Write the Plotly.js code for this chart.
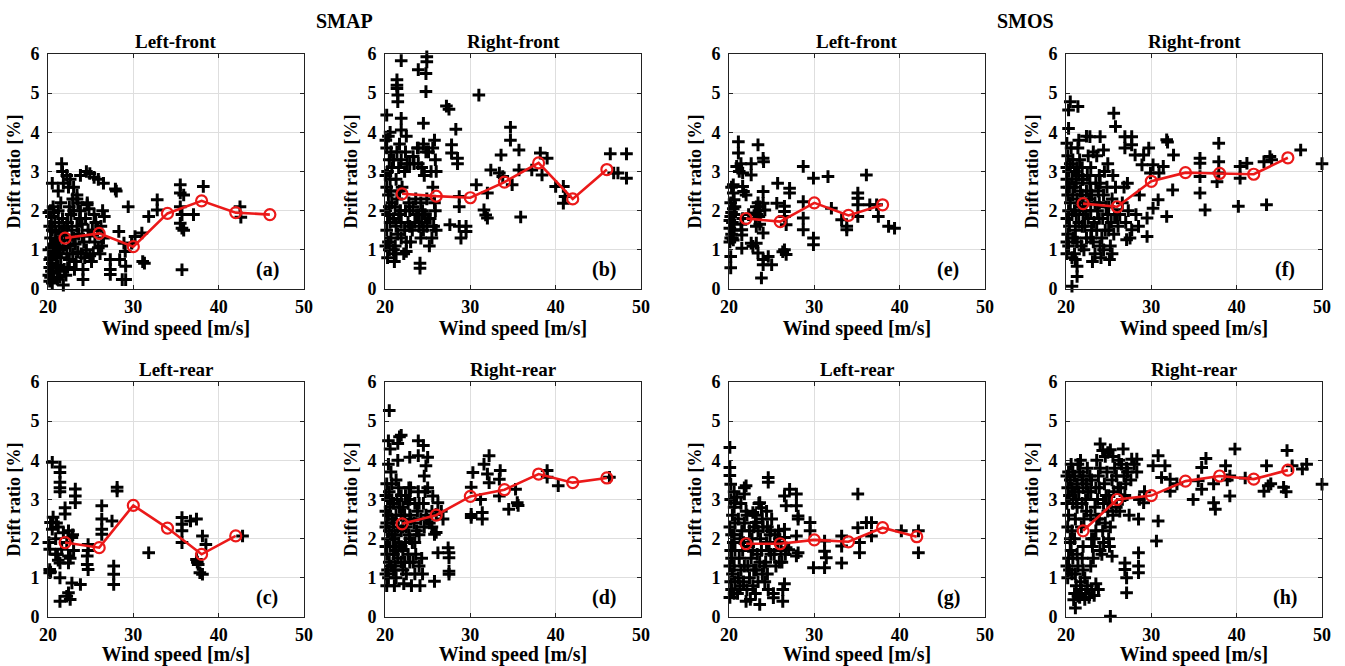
<!DOCTYPE html>
<html><head><meta charset="utf-8">
<script src="https://cdn.plot.ly/plotly-3.0.1.min.js"></script>
<style>html,body{margin:0;padding:0;background:#fff}#chart{width:1345px;height:666px}</style>
</head><body><div id="chart"></div><script>
// Bin centres of the red mean lines (wind speed, m/s)
const binWind = [22, 26, 30, 34, 38, 42, 46];

// Red mean-line values (drift ratio, %)
const meanSmapLF = [1.30, 1.42, 1.08, 1.93, 2.25, 1.95, 1.90];
const meanSmapRF = [2.43, 2.37, 2.33, 2.73, 3.22, 2.30, 3.05];
const meanSmapLR = [1.90, 1.77, 2.85, 2.27, 1.60, 2.07];
const meanSmapRR = [2.38, 2.60, 3.08, 3.25, 3.65, 3.43, 3.55];
const meanSmosLF = [1.80, 1.72, 2.20, 1.88, 2.15];
const meanSmosRF = [2.18, 2.10, 2.75, 2.97, 2.95, 2.93, 3.35];
const meanSmosLR = [1.87, 1.87, 1.97, 1.92, 2.28, 2.05];
const meanSmosRR = [2.20, 3.00, 3.10, 3.47, 3.60, 3.52, 3.75];

// Scatter samples [wind speed, drift ratio]
const ptsSmapLF = [[20.5,2.7],[21.6,3.2],[21.7,3.0],[22.2,2.9],[22.4,2.6],[23.0,2.6],[23.8,2.9],[24.5,3.0],[24.9,2.95],[25.4,2.85],[25.9,2.8],[26.5,2.7],[27.9,2.55],[28.0,2.5],[23.4,2.4],[23.4,2.3],[24.6,2.2],[24.6,2.15],[21.2,2.0],[20.3,2.0],[20.7,1.95],[29.4,2.1],[28.3,1.47],[27.3,0.75],[27.3,0.5],[27.3,0.37],[28.4,0.75],[28.7,0.24],[29.1,0.24],[29.1,0.58],[28.9,1.17],[29.05,0.96],[29.8,1.17],[30.2,1.34],[31.0,1.43],[31.1,0.7],[31.3,0.66],[31.8,1.85],[32.8,2.28],[32.8,2.02],[35.5,2.66],[35.5,2.45],[35.9,2.4],[35.5,2.1],[35.7,1.9],[35.5,1.68],[35.7,1.55],[35.9,1.5],[35.7,0.49],[37.05,1.9],[38.2,2.62],[42.5,2.1],[42.6,1.83],[24.1,0.24],[21.8,0.1],
[20.2,0.2],[20.3,0.3],[20.4,0.45],[20.2,0.55],[20.5,0.65],[20.3,0.8],[20.6,0.9],[20.4,1.05],[20.7,1.15],[20.3,1.3],[20.5,1.5],[20.8,1.7],[20.4,1.85],[20.6,2.1],
[21.1,0.25],[21.3,0.45],[21.2,0.6],[21.5,0.8],[21.4,1.0],[21.2,1.2],[21.6,1.4],[21.3,1.6],[21.7,1.8],[21.5,2.2],[21.2,2.5],[21.8,2.7],
[22.1,0.35],[22.3,0.55],[22.5,0.75],[22.2,0.9],[22.6,1.1],[22.4,1.25],[22.8,1.5],[22.3,1.7],[22.7,1.9],[22.5,2.1],[22.9,2.3],[22.6,2.8],
[23.1,0.5],[23.3,0.7],[23.5,0.95],[23.2,1.15],[23.6,1.4],[23.4,1.6],[23.8,2.0],[23.7,1.8],
[24.1,0.5],[24.3,0.8],[24.5,1.0],[24.2,1.2],[24.7,1.5],[24.4,1.8],[24.8,2.05],
[25.1,0.7],[25.3,0.9],[25.5,1.2],[25.2,1.5],[25.6,1.7],[25.4,1.9],
[26.1,0.9],[26.3,1.1],[26.5,1.3],[26.2,1.6],[26.6,1.85],[26.4,2.0],
[20.1,0.35],[20.6,0.4],[20.9,0.55],[20.2,0.75],[20.8,0.95],[20.1,1.0],[20.9,1.25],[20.2,1.6],[20.9,1.45],[20.1,1.95],[21.0,1.1],[21.9,0.5],[21.8,1.05],[21.9,1.55],[21.0,0.85],[22.0,1.35],[22.9,0.9],[23.0,1.3],[23.9,0.9],[23.0,2.0],[24.0,1.35],[24.9,0.85],[24.9,1.35],[25.9,1.05],[25.8,1.5],[24.0,1.65],[23.5,2.2],[22.2,1.6],[21.4,0.3],[20.5,0.15]];

const ptsSmapRF = [[21.9,5.83],[21.4,5.34],[21.4,5.2],[21.4,5.12],[21.5,4.95],[21.5,4.78],[20.2,4.44],[21.9,4.36],[21.9,4.06],[22.5,3.9],[23.9,5.6],[24.9,5.93],[24.9,5.8],[24.8,5.5],[24.8,5.04],[24.5,4.23],[27.2,4.67],[27.5,4.59],[28.3,4.08],[31.0,4.95],[34.7,4.13],[34.7,3.8],[27.8,3.68],[27.8,3.47],[28.5,3.34],[28.5,3.2],[23.9,3.6],[23.9,3.2],[22.9,3.2],[23.3,3.38],[24.1,0.66],[24.1,0.53],[22.5,0.96],[28.7,2.36],[28.7,2.1],[28.7,1.6],[28.9,1.3],[29.5,1.6],[29.5,1.47],[27.6,1.64],[30.7,2.66],[32.0,2.45],[31.6,2.02],[31.8,1.89],[32.0,1.81],[32.4,3.04],[33.6,3.42],[33.4,2.96],[33.8,2.87],[34.9,2.66],[35.7,3.55],[35.7,3.04],[35.9,1.84],[37.2,3.04],[38.2,3.47],[38.4,2.91],[39.0,3.34],[40.0,2.62],[40.9,2.62],[40.9,2.19],[41.1,2.36],[46.4,3.45],[46.8,2.96],[47.3,2.96],[48.3,3.45],[48.3,2.83],
[20.3,0.8],[20.5,1.0],[20.4,1.2],[20.2,1.5],[20.6,1.7],[20.3,1.9],[20.5,2.1],[20.4,2.4],[20.2,2.6],[20.6,2.8],[20.3,3.0],[20.5,3.3],[20.2,3.6],[20.4,3.9],[20.6,4.0],
[21.1,0.7],[21.3,0.9],[21.2,1.1],[21.5,1.4],[21.3,1.6],[21.6,1.9],[21.2,2.1],[21.4,2.3],[21.7,2.5],[21.3,2.8],[21.6,3.1],[21.4,3.5],[21.7,3.7],
[22.2,0.9],[22.5,1.2],[22.3,1.5],[22.7,1.7],[22.4,2.0],[22.8,2.2],[22.3,3.0],[22.6,3.2],[22.4,3.5],
[23.2,1.5],[23.5,1.7],[23.7,1.9],[23.3,2.1],[23.6,2.3],[23.4,3.2],[23.8,3.6],
[24.2,1.3],[24.5,1.5],[24.3,1.7],[24.7,1.9],[24.4,2.0],[24.6,2.9],[24.3,3.1],[24.8,3.5],[24.5,3.7],
[25.2,1.1],[25.5,1.3],[25.7,1.6],[25.3,1.8],[25.8,2.2],[25.6,2.6],[25.4,3.0],[25.9,3.3],[25.6,3.6],[25.8,3.8],
[20.1,1.1],[20.7,1.3],[20.1,2.0],[20.8,2.2],[20.7,2.5],[20.1,2.9],[20.8,3.1],[20.7,3.5],[20.1,3.8],[21.0,1.0],[21.9,1.3],[21.0,1.8],[21.9,1.7],[21.8,2.0],[21.0,3.3],[21.9,3.3],[22.0,2.6],[22.9,1.6],[22.9,2.0],[23.0,1.2],[24.0,1.6],[24.0,1.9],[24.9,1.6],[25.0,1.8],[24.9,2.3],[24.2,2.2],[25.1,3.5],[26.0,1.5],[26.0,3.0],[25.9,2.0]];

const ptsSmapLR = [[20.5,3.95],[21.4,3.83],[21.4,3.69],[21.4,3.44],[21.4,3.3],[21.4,3.2],[23.2,3.27],[23.2,3.09],[23.2,2.92],[22.0,2.79],[22.0,2.63],[20.3,2.41],[20.5,2.24],[20.1,1.9],[20.2,1.73],[20.2,1.21],[20.2,1.13],[20.9,1.6],[21.4,1.38],[21.6,1.73],[21.4,1.0],[21.4,0.4],[22.2,0.53],[22.4,0.62],[22.6,0.45],[22.8,0.87],[23.8,0.83],[22.4,2.2],[22.8,2.03],[22.2,1.9],[22.4,1.56],[22.4,1.38],[24.6,1.56],[24.6,1.34],[24.7,1.21],[24.7,1.85],[24.7,1.7],[26.3,2.84],[26.3,2.5],[26.3,2.24],[26.3,2.11],[27.5,2.45],[27.7,1.3],[27.7,1.09],[27.7,0.83],[28.1,3.31],[28.1,3.22],[31.8,1.64],[35.7,1.9],[35.7,2.2],[35.7,2.37],[35.7,2.54],[36.7,2.45],[37.4,2.5],[37.4,1.47],[37.6,1.34],[37.8,1.13],[38.1,1.09],[38.1,2.07],[38.5,1.85],[42.8,2.07],
[20.6,2.55],[21.0,2.4],[21.2,2.3],[20.9,2.0],[21.8,2.15],[22.9,2.1],[23.0,1.7],[21.1,1.6],[20.3,1.15],[21.2,1.45],[22.6,1.5],[37.5,1.4]];

const ptsSmapRR = [[20.5,5.27],[20.4,4.5],[20.6,4.29],[21.5,4.43],[21.7,4.6],[21.9,4.64],[23.9,4.5],[24.5,4.38],[23.9,4.12],[25.0,4.08],[22.9,4.08],[24.8,3.86],[24.6,3.6],[25.6,3.09],[26.2,2.92],[26.0,2.62],[26.8,2.5],[25.8,2.11],[26.0,2.16],[26.2,1.64],[27.4,1.77],[27.5,1.64],[27.5,1.51],[27.5,1.17],[27.5,1.09],[25.8,0.91],[30.3,3.69],[30.1,3.31],[30.1,2.62],[30.1,2.54],[31.4,2.5],[31.4,2.67],[31.2,3.0],[31.6,3.9],[32.2,4.12],[32.0,3.65],[32.2,3.43],[33.5,3.74],[33.4,3.52],[33.4,3.09],[34.5,2.75],[35.3,3.26],[35.5,2.92],[35.6,2.85],[39.0,3.74],[39.0,3.57],[40.3,3.35],[46.3,3.57],
[20.2,0.8],[20.4,1.0],[20.3,1.2],[20.5,1.4],[20.2,1.6],[20.6,1.8],[20.3,2.0],[20.5,2.2],[20.2,2.4],[20.4,2.6],[20.6,2.8],[20.3,3.0],[20.5,3.2],[20.2,3.4],[20.7,3.7],[20.4,3.9],
[21.1,0.8],[21.3,1.0],[21.2,1.3],[21.5,1.5],[21.3,1.7],[21.6,1.9],[21.2,2.1],[21.5,2.3],[21.3,2.6],[21.7,2.8],[21.4,3.0],[21.6,3.3],[21.3,3.5],[21.5,4.0],
[22.2,0.85],[22.5,1.1],[22.3,1.4],[22.7,1.6],[22.4,1.9],[22.8,2.1],[22.5,2.3],[22.3,2.6],[22.7,2.9],[22.4,3.1],[22.8,3.3],
[23.1,0.8],[23.5,1.1],[23.3,1.4],[23.6,1.6],[23.2,1.9],[23.7,2.2],[23.4,2.4],[23.8,2.7],[23.5,2.9],[23.9,3.2],
[24.1,0.8],[24.4,1.1],[24.3,1.5],[24.6,2.3],[24.2,2.5],[24.8,2.6],[24.5,2.9],[24.7,3.2],[25.0,3.3],[25.2,2.4],[25.5,2.3],
[20.1,1.1],[20.7,1.3],[20.1,1.8],[20.8,2.1],[20.1,2.3],[20.8,2.5],[20.1,2.7],[20.8,3.0],[20.1,3.1],[20.8,3.4],[21.0,1.2],[21.9,1.4],[21.0,1.6],[21.9,1.8],[21.0,2.0],[21.9,2.2],[21.0,2.4],[21.9,2.6],[21.0,2.9],[21.9,3.1],[22.1,1.2],[22.9,1.4],[22.1,1.7],[22.9,2.0],[22.1,2.3],[22.9,2.6],[22.1,2.8],[22.9,3.0],[23.0,2.5],[24.0,2.1],[23.0,3.3],[24.0,2.9],[24.9,2.5],[24.0,1.3],[25.5,2.7],[26.6,2.7],[23.5,1.9]];

const ptsSmosLF = [[21.1,3.76],[21.1,3.47],[20.9,3.13],[21.4,3.2],[21.2,3.0],[21.6,2.96],[23.4,3.68],[22.6,3.2],[22.6,2.91],[24.0,3.34],[24.05,3.25],[20.5,2.66],[20.5,2.45],[20.6,2.28],[21.6,2.62],[21.7,2.49],[20.2,0.83],[20.2,0.54],[21.5,1.51],[21.5,1.38],[21.5,1.04],[22.6,1.17],[22.8,1.09],[23.2,1.17],[23.4,0.92],[24.0,2.49],[24.0,2.19],[24.2,2.02],[23.2,2.1],[23.1,1.94],[24.0,1.43],[24.0,0.75],[24.0,0.62],[23.8,0.28],[24.6,0.83],[25.0,0.62],[25.7,2.7],[25.6,2.19],[26.5,2.11],[26.5,1.98],[26.5,1.85],[26.7,1.64],[26.5,1.0],[26.7,0.88],[26.3,0.95],[27.1,2.57],[27.1,2.45],[28.7,3.13],[28.7,2.23],[28.7,1.81],[28.7,1.51],[29.9,2.83],[29.9,1.3],[29.9,1.13],[31.6,2.87],[32.0,2.06],[33.2,1.77],[33.8,1.6],[33.8,1.51],[35.1,2.45],[35.1,2.32],[35.1,2.15],[35.1,1.85],[36.1,2.91],[36.5,2.15],[37.3,2.15],[37.5,1.85],[38.7,1.6],[39.4,1.55],
[20.1,1.2],[20.2,1.3],[20.3,1.4],[20.1,1.55],[20.4,1.7],[20.2,1.85],[20.3,1.95],[20.5,2.05],[20.2,2.2],[20.6,1.9],[20.4,1.3],[20.7,2.1],
[23.1,1.8],[23.3,1.9],[23.5,2.0],[23.4,2.2],[23.6,1.65],[23.2,1.6],[21.6,1.8],[21.4,1.65],[22.0,2.4],[22.3,1.9],
[20.1,1.75],[20.6,1.5],[20.5,1.25],[20.3,2.6],[23.6,2.1],[23.5,1.85]];

const ptsSmosRF = [[20.5,4.78],[20.3,4.57],[21.4,4.66],[20.3,4.1],[20.1,3.72],[25.6,4.49],[25.8,4.15],[22.8,3.89],[24.0,3.89],[24.4,3.55],[26.9,3.89],[27.7,3.89],[27.7,3.68],[26.9,3.6],[28.1,3.42],[29.1,3.42],[29.7,3.6],[28.9,3.17],[29.9,2.96],[31.8,3.81],[31.9,3.75],[32.6,3.42],[31.4,3.13],[30.2,3.17],[30.9,2.96],[32.5,2.53],[31.8,1.85],[30.8,2.28],[30.2,2.06],[29.5,1.34],[29.5,1.81],[28.5,1.6],[27.7,1.51],[27.1,1.26],[35.7,3.34],[35.7,3.21],[35.7,2.45],[36.3,2.02],[35.7,2.87],[37.9,3.72],[37.9,3.25],[37.9,2.96],[37.7,2.74],[40.2,2.11],[40.4,3.13],[40.4,2.83],[41.2,3.21],[43.5,2.15],[43.2,3.25],[43.9,3.38],[44.1,3.3],[47.5,3.55],[50.0,3.2],[20.7,0.07],[21.3,0.32],[21.3,0.58],[21.1,0.75],
[20.1,0.9],[20.3,1.1],[20.2,1.4],[20.4,1.6],[20.1,1.8],[20.3,2.0],[20.5,2.2],[20.2,2.4],[20.4,2.6],[20.1,2.8],[20.3,3.0],[20.5,3.2],[20.2,3.4],[20.6,3.6],
[21.0,0.9],[21.3,1.2],[21.1,1.5],[21.5,1.7],[21.2,1.9],[21.6,2.1],[21.3,2.3],[21.7,2.5],[21.2,2.7],[21.5,2.9],[21.3,3.1],[21.6,3.3],[21.4,3.6],
[22.1,1.0],[22.4,1.3],[22.2,1.6],[22.6,1.8],[22.3,2.0],[22.7,2.3],[22.4,2.5],[22.8,2.7],[22.5,2.9],[22.9,3.1],[22.6,3.4],
[23.1,0.7],[23.4,0.9],[23.2,1.2],[23.6,1.5],[23.3,1.7],[23.7,2.0],[23.4,2.2],[23.8,2.5],[23.5,2.7],[23.9,2.9],[23.6,3.4],
[24.1,0.8],[24.4,1.0],[24.2,1.3],[24.6,1.5],[24.3,1.8],[24.7,2.1],[24.4,2.4],[24.8,2.6],[24.5,3.0],[24.9,3.2],
[25.1,0.75],[25.4,0.9],[25.2,1.1],[25.6,1.4],[25.3,1.7],[25.7,1.9],[25.4,2.3],[25.8,2.6],[25.5,2.9],
[26.3,1.9],[26.6,2.2],[27.0,1.7],[27.3,2.0],[27.5,1.3],[28.2,1.9],[28.6,2.4],[26.8,2.6],[27.2,2.7],
[20.7,0.8],[20.8,1.3],[20.1,1.2],[20.7,1.9],[20.8,2.4],[20.1,2.6],[20.7,2.8],[20.8,3.3],[20.1,3.1],[21.8,1.1],[21.0,1.3],[21.9,1.6],[21.0,2.0],[21.9,2.4],[21.0,2.6],[21.9,2.8],[21.0,3.0],[21.9,3.1],[22.9,1.3],[22.0,1.9],[22.9,2.0],[22.0,2.2],[22.9,2.5],[22.0,2.8],[23.0,1.5],[23.9,1.8],[23.0,2.4],[23.9,2.2],[24.0,1.1],[24.9,1.9],[24.0,2.7],[25.0,1.5],[25.0,2.1],[26.0,1.9],[26.1,1.6],[21.5,3.8],[22.4,3.9],[23.2,3.5]];

const ptsSmosLR = [[20.1,4.33],[20.1,3.82],[20.1,3.61],[20.2,3.39],[22.0,3.35],[21.8,3.14],[20.9,3.06],[20.7,2.92],[24.6,3.56],[24.6,3.44],[23.6,2.92],[23.8,2.79],[22.8,2.67],[22.0,2.7],[23.2,2.41],[24.4,2.7],[26.5,3.09],[27.1,3.26],[27.9,3.14],[26.7,2.84],[27.9,2.84],[28.1,2.58],[28.1,2.5],[26.5,2.24],[26.5,2.03],[26.7,1.77],[27.0,1.72],[27.9,2.07],[28.1,1.64],[27.9,1.56],[29.5,2.41],[29.5,2.2],[29.9,1.26],[31.2,1.94],[31.2,1.68],[31.4,1.51],[31.2,1.26],[33.2,2.07],[33.2,1.81],[33.2,1.38],[35.1,3.14],[35.1,2.28],[35.3,1.9],[35.3,1.64],[36.1,2.41],[36.7,2.41],[36.7,2.07],[40.2,2.2],[42.2,2.2],[42.2,1.64],[22.0,0.4],[23.6,0.32],[26.3,0.4],[25.2,0.49],[24.6,0.7],
[20.1,0.5],[20.3,0.7],[20.2,0.9],[20.4,1.1],[20.1,1.3],[20.3,1.5],[20.2,1.7],[20.5,1.9],[20.3,2.1],[20.1,2.3],[20.4,2.6],[20.2,3.0],[20.6,3.2],
[21.0,0.6],[21.3,0.8],[21.1,1.0],[21.4,1.2],[21.2,1.5],[21.6,1.7],[21.3,2.0],[21.5,2.2],[21.1,2.5],[21.4,2.9],
[22.1,0.7],[22.4,1.0],[22.2,1.3],[22.6,1.5],[22.3,1.8],[22.7,2.0],[22.4,2.2],[22.1,2.6],
[23.1,0.6],[23.4,0.9],[23.2,1.2],[23.6,1.4],[23.3,1.6],[23.7,2.0],[23.4,2.2],[23.9,2.5],
[24.2,0.9],[24.5,1.1],[24.3,1.4],[24.7,1.7],[24.4,1.9],[24.8,2.1],[24.5,2.3],
[25.2,0.6],[25.5,1.3],[25.3,1.6],[25.7,1.9],[25.4,2.1],[25.8,2.2],
[26.3,0.7],[26.5,0.85],[26.2,1.4],[26.6,1.6],
[20.6,0.6],[20.7,0.9],[20.6,1.3],[20.7,1.7],[20.6,2.1],[20.7,2.4],[20.6,2.8],[21.7,0.9],[21.8,1.3],[21.7,1.9],[21.8,2.4],[21.8,3.3],[22.8,0.8],[22.9,1.2],[22.8,1.7],[22.9,2.3],[23.1,2.6],[23.9,1.1],[23.8,1.7],[24.0,2.3],[24.1,1.3],[24.9,1.6],[24.9,2.2],[25.0,2.5],[25.9,1.4],[25.9,2.0],[26.1,1.7],[23.5,2.9],[22.5,0.45]];

const ptsSmosRR = [[24.0,4.42],[24.3,4.25],[25.2,4.27],[26.7,4.29],[27.7,4.03],[28.3,4.03],[25.2,0.02],[21.1,0.23],[20.9,0.44],[21.4,0.53],[30.6,1.94],[30.8,2.45],[26.9,1.38],[26.9,1.21],[27.1,1.0],[27.1,0.62],[28.5,1.64],[28.5,1.3],[28.5,1.13],[28.5,2.5],[29.1,2.92],[30.2,3.86],[30.8,4.12],[31.6,3.86],[31.2,3.56],[32.2,3.52],[32.2,3.21],[34.9,3.0],[35.5,3.48],[35.9,3.82],[35.9,3.26],[37.3,2.92],[37.5,2.75],[37.3,3.4],[38.7,3.86],[39.2,3.6],[39.2,3.09],[39.8,4.29],[43.5,3.86],[43.7,3.35],[43.2,3.21],[45.5,3.31],[45.9,4.25],[46.5,3.86],[45.8,3.2],[47.7,3.78],[48.2,3.9],[50.0,3.39],[33.0,3.4],[36.4,4.05],[38.9,3.5],[41.0,3.55],[44.0,3.4],
[20.2,1.0],[20.4,1.2],[20.3,1.5],[20.6,1.7],[20.5,1.9],[21.0,0.6],[21.2,0.8],[21.1,1.1],[21.4,1.3],[21.3,1.6],[21.6,0.5],[21.8,0.7],[21.7,0.9],[22.0,1.2],[22.3,0.6],[22.5,0.8],[22.7,0.5],[23.0,0.7],[23.3,0.55],[23.5,0.85],[22.2,1.0],[21.9,1.5],
[20.2,2.3],[20.3,2.6],[20.1,2.9],[20.4,3.1],[20.2,3.3],[20.5,3.5],[20.3,3.7],[20.6,3.9],
[21.1,2.5],[21.3,2.8],[21.2,3.0],[21.5,3.2],[21.3,3.4],[21.6,3.7],[21.4,3.9],[21.7,4.0],
[22.1,2.5],[22.4,2.7],[22.3,3.0],[22.6,3.2],[22.4,3.4],[22.8,3.6],[22.5,3.8],
[23.1,1.8],[23.3,2.0],[23.5,2.2],[23.2,1.5],[23.6,2.5],[23.4,2.8],[23.7,3.0],[23.5,3.3],[23.8,3.6],[23.6,4.0],
[24.2,1.6],[24.4,1.9],[24.3,2.2],[24.6,2.4],[24.4,2.9],[24.7,3.1],[24.5,3.4],[24.8,3.7],[24.6,4.1],
[25.1,1.8],[25.4,1.55],[25.2,2.3],[25.5,2.6],[25.3,2.9],[25.6,3.2],[25.4,3.5],[25.7,3.8],[25.5,4.1],
[26.3,2.7],[26.6,3.0],[26.4,3.3],[26.8,3.6],[26.5,3.9],[27.0,3.4],[27.2,3.7],[27.4,2.6],[26.2,4.0],[27.6,3.5],[28.0,3.9],[28.6,3.0],[29.2,3.2],[28.3,3.7],
[20.7,1.1],[20.8,1.5],[20.1,1.3],[20.7,2.2],[20.8,2.9],[20.7,3.3],[20.8,3.7],[20.1,3.6],[21.0,2.0],[21.8,2.3],[21.0,3.2],[21.9,3.5],[21.0,3.6],[21.9,2.9],[22.0,3.3],[22.9,3.2],[22.0,3.6],[22.9,2.6],[22.0,1.8],[22.9,1.3],[23.0,2.0],[23.9,2.5],[23.0,3.5],[23.9,3.3],[24.0,1.7],[24.9,2.7],[24.0,3.8],[24.9,4.2],[25.0,2.0],[25.9,2.8],[25.0,3.1],[25.9,3.6],[26.1,3.3],[26.9,3.1],[27.1,3.8],[23.8,0.7],[22.2,0.45],[20.5,2.0]];

const panelTitles = ['Left-front','Right-front','Left-front','Right-front','Left-rear','Right-rear','Left-rear','Right-rear'];
const panelLabels = ['(a)','(b)','(e)','(f)','(c)','(d)','(g)','(h)'];
const groupTitles = ['SMAP','SMOS'];
const xTitle = 'Wind speed [m/s]';
const yTitle = 'Drift ratio [%]';

const panelPts = [ptsSmapLF, ptsSmapRF, ptsSmosLF, ptsSmosRF, ptsSmapLR, ptsSmapRR, ptsSmosLR, ptsSmosRR];
const panelMeans = [meanSmapLF, meanSmapRF, meanSmosLF, meanSmosRF, meanSmapLR, meanSmapRR, meanSmosLR, meanSmosRR];

const W = 1345, H = 666;
const colL = [48, 385, 729, 1066];
const plotW = 256;
const rowTop = [54, 382];
const plotH = 235;

const FONT = "'Liberation Serif', 'Times New Roman', Times, serif";
const RED = 'rgb(235,25,25)';
const traces = [];
const layout = {
  width: W, height: H,
  margin: {l:0, r:0, t:0, b:0},
  paper_bgcolor: '#fff', plot_bgcolor: '#fff',
  showlegend: false,
  font: {family: FONT, color: '#000', weight: 'bold'},
  annotations: []
};

for (let i = 0; i < 8; i++) {
  const n = i + 1;
  const xa = n === 1 ? 'x' : 'x' + n;
  const ya = n === 1 ? 'y' : 'y' + n;
  const col = i % 4, row = Math.floor(i / 4);
  const x0 = colL[col] / W, x1 = (colL[col] + plotW) / W;
  const yT = 1 - rowTop[row] / H, yB = 1 - (rowTop[row] + plotH) / H;
  const axCommon = {
    showline: true, linecolor: '#222', linewidth: 1, mirror: 'ticks',
    ticks: 'inside', ticklen: 4, tickcolor: '#222', tickwidth: 1,
    showgrid: true, gridcolor: '#dedede', gridwidth: 1, zeroline: false,
    tickfont: {family: FONT, size: 18, color: '#000', weight: 'bold'},
    fixedrange: true
  };
  layout['xaxis' + (n === 1 ? '' : n)] = Object.assign({}, axCommon, {
    domain: [x0, x1], anchor: ya, range: [20, 50], tickvals: [20,30,40,50],
    ticklabelstandoff: 1,
    title: {text: xTitle, font: {family: FONT, size: 20, color: '#000', weight: 'bold'}, standoff: 4}
  });
  layout['yaxis' + (n === 1 ? '' : n)] = Object.assign({}, axCommon, {
    domain: [yB, yT], anchor: xa, range: [0, 6], tickvals: [0,1,2,3,4,5,6],
    ticklabelstandoff: 4,
    title: {text: yTitle, font: {family: FONT, size: 18, color: '#000', weight: 'bold'}, standoff: 5}
  });
  const pts = panelPts[i];
  traces.push({
    type: 'scatter', mode: 'markers', xaxis: xa, yaxis: ya,
    x: pts.map(p => p[0]), y: pts.map(p => p[1]),
    marker: {symbol: 'cross-thin', size: 9, color: '#000', line: {color: '#000', width: 3}},
    hoverinfo: 'skip', cliponaxis: false
  });
  const m = panelMeans[i];
  traces.push({
    type: 'scatter', mode: 'lines+markers', xaxis: xa, yaxis: ya,
    x: binWind.slice(0, m.length), y: m,
    line: {color: RED, width: 2.6},
    marker: {symbol: 'circle-open', size: 11, color: RED, line: {width: 2.2, color: RED}},
    hoverinfo: 'skip'
  });
  layout.annotations.push({
    text: panelTitles[i], xref: xa + ' domain', yref: ya + ' domain', x: 0.5, y: 1,
    xanchor: 'center', yanchor: 'bottom', yshift: 0, showarrow: false,
    font: {family: FONT, size: 19, color: '#000', weight: 'bold'}
  });
  layout.annotations.push({
    text: panelLabels[i], xref: xa, yref: ya, x: 45.7, y: 0.49,
    xanchor: 'center', yanchor: 'middle', showarrow: false,
    font: {family: FONT, size: 20, color: '#000', weight: 'bold'}
  });
}
layout.annotations.push({text: groupTitles[0], xref: 'paper', yref: 'paper', x: 344 / W, y: 1 - 21 / H,
  xanchor: 'center', yanchor: 'middle', showarrow: false, font: {family: FONT, size: 20, color: '#000', weight: 'bold'}});
layout.annotations.push({text: groupTitles[1], xref: 'paper', yref: 'paper', x: 1025 / W, y: 1 - 21 / H,
  xanchor: 'center', yanchor: 'middle', showarrow: false, font: {family: FONT, size: 20, color: '#000', weight: 'bold'}});

Plotly.newPlot('chart', traces, layout, {displayModeBar: false, staticPlot: true});
</script></body></html>
